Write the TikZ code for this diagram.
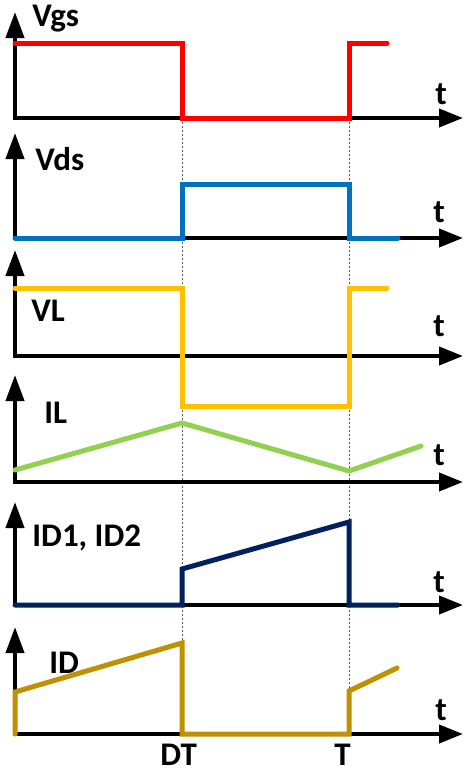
\documentclass[tikz,border=0pt]{standalone}
\usepackage{fontspec}
\setmainfont{Carlito}
\usepackage{tikz}
\usetikzlibrary{arrows.meta}

\definecolor{vgsred}{RGB}{255,0,0}
\definecolor{vdsblue}{RGB}{0,112,192}
\definecolor{vlyellow}{RGB}{255,192,0}
\definecolor{ilgreen}{RGB}{146,208,80}
\definecolor{idnavy}{RGB}{0,32,96}
\definecolor{idgold}{RGB}{191,144,0}

\begin{document}
\begin{tikzpicture}[x=0.5pt, y=-0.5pt,
    axis/.style={line width=2pt, {Triangle[length=13pt,width=9pt]}-{Triangle[length=12pt,width=9pt]}},
    wave/.style={line width=2.5pt, line cap=round},
    lbl/.style={font=\bfseries\fontsize{16.5}{19}\selectfont, anchor=base west, inner sep=0pt}]
            \useasboundingbox (0,0) rectangle (464,771);
            % time marks
            \draw[gray!70!black, line width=0.5pt, dash pattern=on 1pt off 1pt] (182,118) -- (182,734);
            \draw[gray!70!black, line width=0.5pt, dash pattern=on 1pt off 1pt] (349,118) -- (349,734);
            % axes
            \draw[axis] (15,12) -- (15,118) -- (463,118);
            \draw[axis] (15,133) -- (15,238) -- (463,238);
            \draw[axis] (15,250) -- (15,356) -- (463,356);
            \draw[axis] (15,375) -- (15,482) -- (463,482);
            \draw[axis] (15,502) -- (15,605) -- (463,605);
            \draw[axis] (15,627) -- (15,734) -- (463,734);
            % waveforms
            \draw[wave, vgsred] (15,43) -- (182,43) -- (182,118) -- (349,118) -- (349,43) -- (387,43);
            \draw[wave, vdsblue] (15,238) -- (182,238) -- (182,184) -- (349,184) -- (349,238) -- (398,238);
            \draw[wave, vlyellow] (15,288) -- (182,288) -- (182,406) -- (349,406) -- (349,288) -- (387,288);
            \draw[wave, ilgreen] (15,470) -- (182,423) -- (349,471) -- (421,446);
            \draw[wave, idnavy] (15,605) -- (182,605) -- (182,569) -- (349,522) -- (349,605) -- (398,605);
            \draw[wave, idgold] (15,734) -- (15,692) -- (182,643) -- (182,734) -- (349,734) -- (349,691) -- (397,668);
            % labels
            \node[lbl] (vgs) at (32,26) {Vgs};
            \node[lbl] (vds) at (35,170) {Vds};
            \node[lbl] (vl) at (31,321) {VL};
            \node[lbl] (il) at (44,423) {IL};
            \node[lbl] (id12) at (32,546) {ID1, ID2};
            \node[lbl] (id) at (49,673) {ID};
            \node[lbl] (t1) at (435,104) {t};
            \node[lbl] (t2) at (433,222) {t};
            \node[lbl] (t3) at (433,336) {t};
            \node[lbl] (t4) at (433,465) {t};
            \node[lbl] (t5) at (433,592) {t};
            \node[lbl] (t6) at (435,720) {t};
            \node[lbl] (dt) at (160,765) {DT};
            \node[lbl] (tt) at (334,765) {T};
        \end{tikzpicture}
\end{document}
